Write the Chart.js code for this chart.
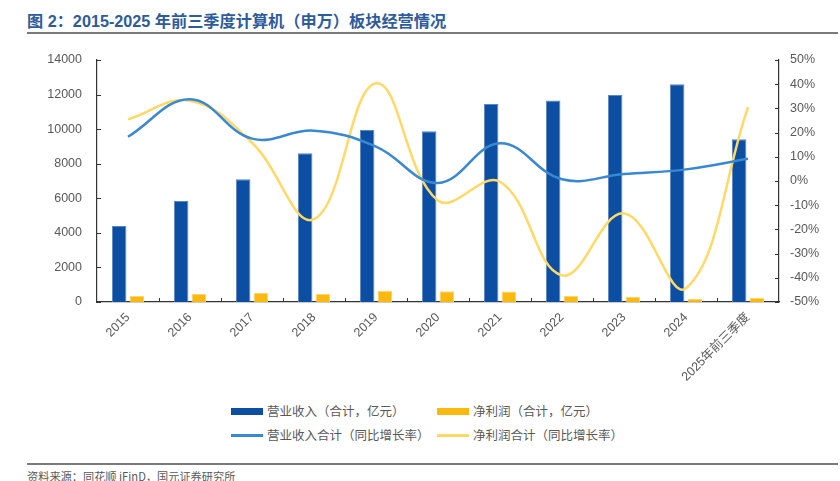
<!DOCTYPE html>
<html>
<head>
<meta charset="utf-8">
<script src="https://cdn.jsdelivr.net/npm/chart.js@4.4.1/dist/chart.umd.min.js"></script>
<style>
  html, body { margin: 0; padding: 0; background: #fff; }
  body { width: 840px; height: 481px; position: relative; overflow: hidden;
         font-family: "Liberation Sans", "Noto Sans CJK SC", sans-serif; }
  #title { position: absolute; left: 27px; top: 8px; font-size: 16.2px; font-weight: bold;
           color: #2E5B9A; font-family: "Liberation Sans", "Noto Sans CJK SC", sans-serif; white-space: nowrap; }
  .rule { position: absolute; left: 27px; width: 811px; height: 2px; background: #7a7a7a; }
  #chartBox { position: absolute; left: 0; top: 0; width: 840px; height: 400px; }
  .lg { position: absolute; font-size: 12.5px; color: #595959; white-space: nowrap;
        font-family: "Noto Sans CJK SC", sans-serif; line-height: 16px; }
  .sw { position: absolute; }
  #src { position: absolute; left: 27px; top: 468px; font-size: 11.2px; color: #595959;
         font-family: "Noto Sans CJK SC", sans-serif; white-space: nowrap; }
</style>
</head>
<body>
<div id="title">图 2：2015-2025 年前三季度计算机（申万）板块经营情况</div>
<div class="rule" style="top:32px"></div>
<div id="chartBox"><canvas id="bizChart"></canvas></div>

<div class="sw" style="left:231px;top:408px;width:32px;height:7px;background:#0B4EA2"></div>
<div class="lg" style="left:267px;top:403px">营业收入（合计，亿元）</div>
<div class="sw" style="left:437px;top:408px;width:32px;height:7px;background:#FBB80F"></div>
<div class="lg" style="left:473px;top:403px">净利润（合计，亿元）</div>
<div class="sw" style="left:231px;top:434px;width:32px;height:3px;background:#3A87D2"></div>
<div class="lg" style="left:267px;top:427px">营业收入合计（同比增长率）</div>
<div class="sw" style="left:437px;top:434px;width:32px;height:3px;background:#FFD966"></div>
<div class="lg" style="left:473px;top:427px">净利润合计（同比增长率）</div>

<div class="rule" style="top:463px"></div>
<div id="src">资料来源：同花顺 iFinD，国元证券研究所</div>

<script>
// 数据
const years = ['2015', '2016', '2017', '2018', '2019', '2020', '2021', '2022', '2023', '2024', '2025年前三季度'];
const revenue = [4400, 5850, 7100, 8600, 9950, 9880, 11450, 11650, 11980, 12590, 9410];   // 亿元
const profit = [350, 460, 540, 460, 650, 620, 610, 360, 300, 170, 230];                     // 亿元
const revenueYoY = [18.3, 33.8, 17.5, 20.8, 14.2, -0.8, 15.6, 0.7, 2.9, 4.8, 9.2];        // %
const profitYoY = [25.5, 33.2, 15.8, -15.8, 40.4, -8.1, -0.3, -39.0, -13.4, -44.3, 30.5]; // %
const leftTicks = [0, 2000, 4000, 6000, 8000, 10000, 12000, 14000];
const rightTicks = [-50, -40, -30, -20, -10, 0, 10, 20, 30, 40, 50];

const tickFont = { family: '"Liberation Sans", "Noto Sans CJK SC", sans-serif', size: 12.5 };
const tickColor = '#595959';

// 刻度线画在坐标轴内侧
const innerTicks = {
    id: 'innerTicks',
    afterDraw(chart) {
        const c = chart.ctx, a = chart.chartArea;
        const x = chart.scales.x, yl = chart.scales.y, yr = chart.scales.y1;
        c.save();
        c.strokeStyle = '#333';
        c.lineWidth = 1;
        c.beginPath();
        leftTicks.forEach(v => {
            const p = Math.round(yl.getPixelForValue(v)) + 0.5;
            c.moveTo(a.left, p); c.lineTo(a.left + 4, p);
        });
        rightTicks.forEach(v => {
            const p = Math.round(yr.getPixelForValue(v)) + 0.5;
            c.moveTo(a.right, p); c.lineTo(a.right - 4, p);
        });
        for (let i = 1; i < years.length; i++) {
            const p = Math.round((x.getPixelForValue(i - 1) + x.getPixelForValue(i)) / 2) + 0.5;
            c.moveTo(p, a.bottom); c.lineTo(p, a.bottom - 4);
        }
        c.stroke();
        c.restore();
    }
};

const ctx = document.getElementById('bizChart');

new Chart(ctx, {
    data: {
        labels: years,
        datasets: [
            {
                type: 'line',
                label: '营业收入合计（同比增长率）',
                data: revenueYoY,
                yAxisID: 'y1',
                borderColor: '#3A87D2',
                borderWidth: 2.5,
                pointRadius: 0,
                tension: 0.4,
                order: 0
            },
            {
                type: 'line',
                label: '净利润合计（同比增长率）',
                data: profitYoY,
                yAxisID: 'y1',
                borderColor: '#FFD966',
                borderWidth: 2.5,
                pointRadius: 0,
                tension: 0.4,
                order: 0
            },
            {
                type: 'bar',
                label: '营业收入（合计，亿元）',
                data: revenue,
                yAxisID: 'y',
                backgroundColor: '#0B4EA2',
                borderColor: '#5B86C4',
                borderWidth: 1,
                categoryPercentage: 0.57,
                barPercentage: 0.82,
                order: 1
            },
            {
                type: 'bar',
                label: '净利润（合计，亿元）',
                data: profit,
                yAxisID: 'y',
                backgroundColor: '#FBB80F',
                borderColor: '#FDD56E',
                borderWidth: 1,
                categoryPercentage: 0.57,
                barPercentage: 0.82,
                order: 1
            }
        ]
    },
    options: {
        responsive: true,
        maintainAspectRatio: false,
        animation: false,
        layout: { padding: { top: 60, left: 0, right: 0, bottom: 0 } },
        plugins: {
            legend: { display: false },
            tooltip: { enabled: false }
        },
        scales: {
            x: {
                grid: { display: false, drawTicks: false },
                border: { display: true, color: '#333', width: 1.2 },
                ticks: { color: tickColor, font: tickFont, minRotation: 45, maxRotation: 45, padding: 8 },
                afterFit(s) { s.height = 98; }
            },
            y: {
                position: 'left',
                min: 0, max: 14000,
                grid: { display: false, drawTicks: false },
                border: { display: true, color: '#333', width: 1.2 },
                ticks: { stepSize: 2000, color: tickColor, font: tickFont, padding: 15,
                         callback: v => String(v) },
                afterFit(s) { s.width = 97; }
            },
            y1: {
                position: 'right',
                min: -50, max: 50,
                grid: { display: false, drawTicks: false },
                border: { display: true, color: '#333', width: 1.2 },
                ticks: { stepSize: 10, color: tickColor, font: tickFont, padding: 11,
                         callback: v => v + '%' },
                afterFit(s) { s.width = 61; }
            }
        }
    },
    plugins: [innerTicks]
});
</script>
</body>
</html>
